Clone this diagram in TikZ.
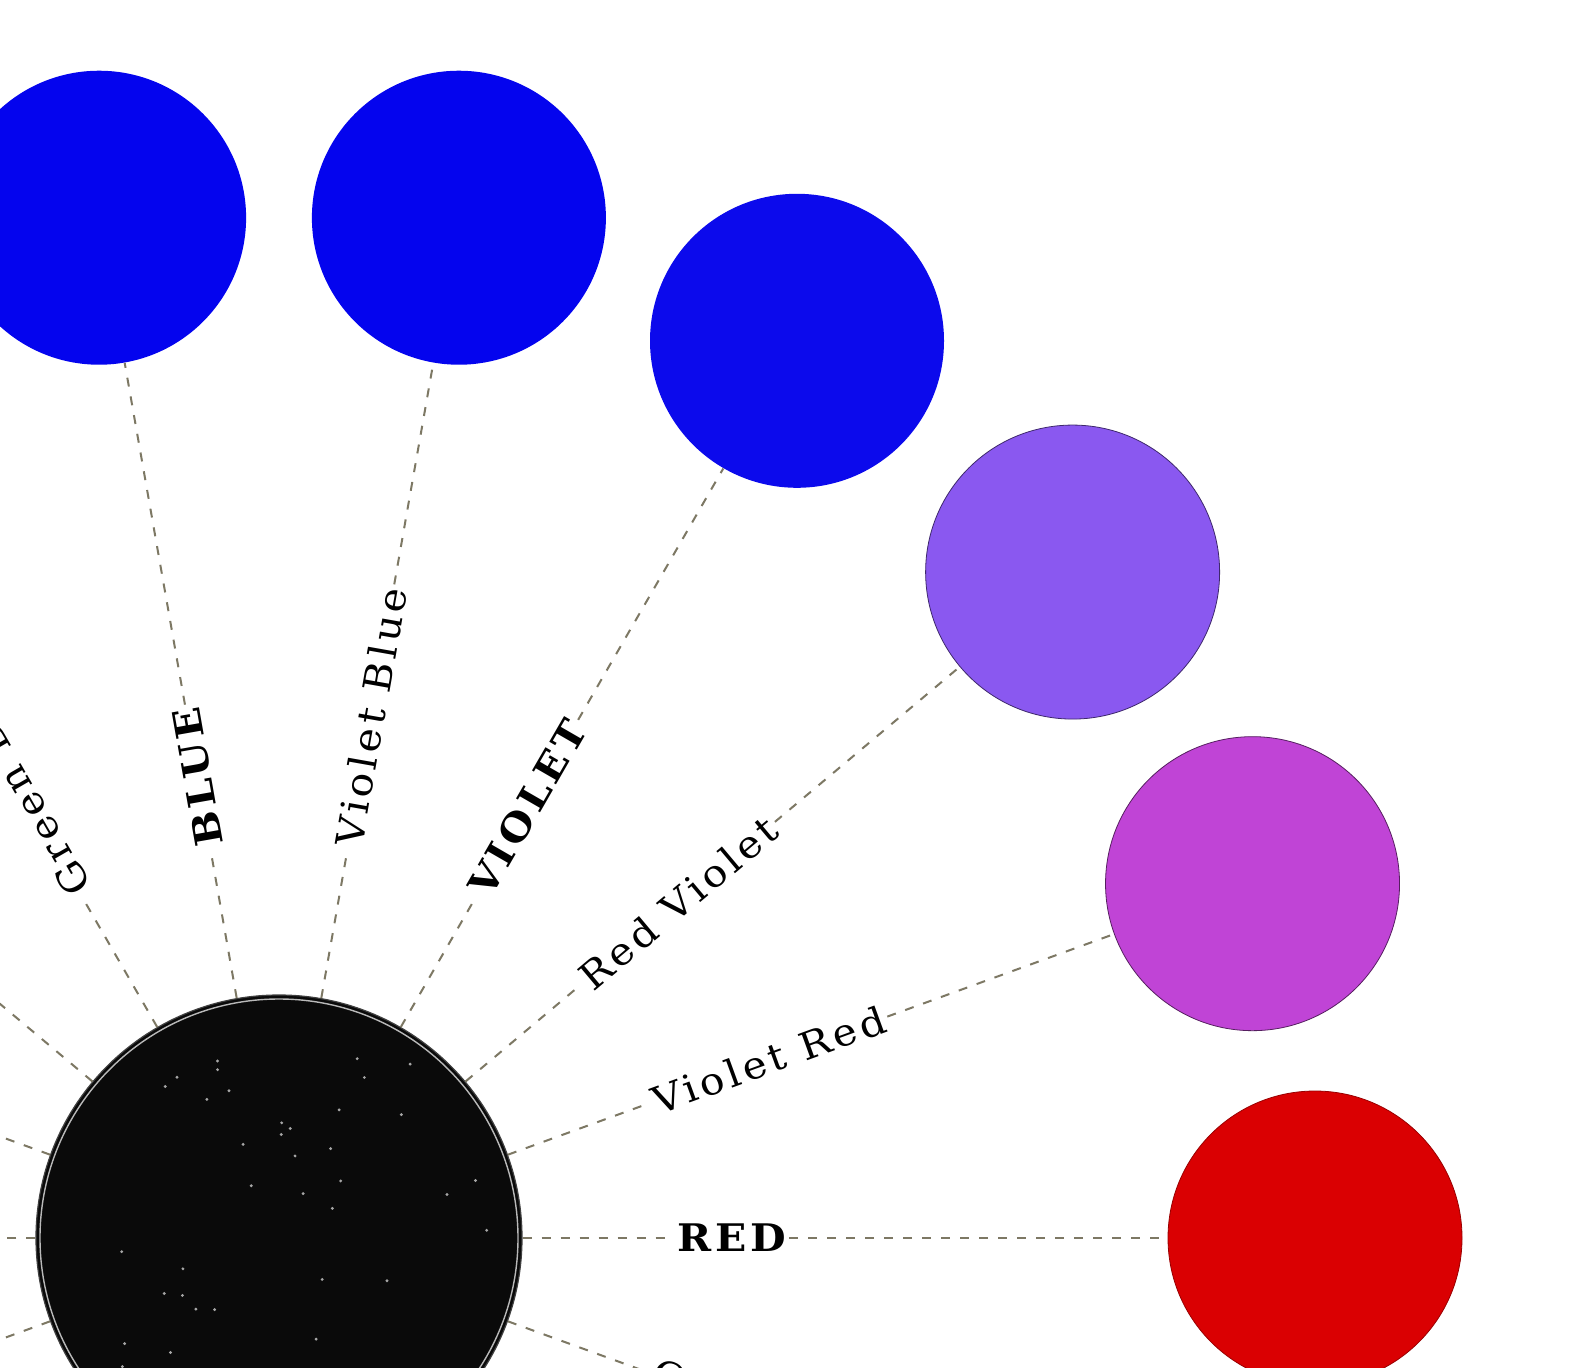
\documentclass[tikz,border=0pt]{standalone}
\usepackage{fontspec}
\newfontfamily\tagfont{DejaVu Serif}[LetterSpace=10, FakeStretch=1.08]
\definecolor{bluedisc}{RGB}{4,4,238}
\definecolor{violetdisc}{RGB}{12,10,236}
\definecolor{lavenderdisc}{RGB}{138,88,240}
\definecolor{magentadisc}{RGB}{192,68,214}
\definecolor{reddisc}{RGB}{218,0,2}
\definecolor{raygray}{RGB}{125,120,100}
\tikzset{
  disc/.style={circle, minimum size=147pt, inner sep=0pt},
  ray/.style={raygray, line width=1pt, dash pattern=on 4.5pt off 5pt},
  tag/.style={anchor=west, inner sep=1.5pt, font=\tagfont\fontsize{19}{21}\selectfont},
}
\begin{document}
\begin{tikzpicture}[x=0.5pt, y=0.5pt]
        \useasboundingbox (-279,-129) rectangle (1309,1238);
        \clip (-279,-129) rectangle (1309,1238);
        \fill[white] (-279,-129) rectangle (1309,1238);

        \node[circle, fill=black!96, draw=black!75, line width=0.6pt,
              minimum size=243pt, inner sep=0pt] (black) at (0,0) {};
        \draw[gray!55, line width=0.7pt] (0,0) circle (239);
        \pgfmathsetseed{11}
        \foreach \i in {1,...,45} {
          \pgfmathsetmacro\sa{360*rnd}
          \pgfmathsetmacro\sr{228*sqrt(rnd)}
          \fill[gray!70] (\sa:\sr) circle (1.6);
        }

        \node[disc, fill=reddisc, draw=reddisc!70!black, line width=0.4pt] (red) at (0:1036) {};
        \node[disc, fill=magentadisc, draw=magentadisc!45!black, line width=0.4pt] (violetred) at (20:1036) {};
        \node[disc, fill=lavenderdisc, draw=lavenderdisc!45!black, line width=0.4pt] (redviolet) at (40:1036) {};
        \node[disc, fill=violetdisc] (violet) at (60:1036) {};
        \node[disc, fill=bluedisc] (violetblue) at (80:1036) {};
        \node[disc, fill=bluedisc] (blue) at (100:1036) {};
        \coordinate (greenblue) at (120:1036);
        \coordinate (edge140) at (140:700);
        \coordinate (edge160) at (160:700);
        \coordinate (edge180) at (180:700);
        \coordinate (edge200) at (200:700);
        \coordinate (orangered) at (-20:1036);

        \node[tag, rotate=0] (tagred) at (0:395) {\bfseries RED};
        \node[tag, rotate=20] (tagvioletred) at (20:395) {Violet Red};
        \node[tag, rotate=40] (tagredviolet) at (40:395) {Red Violet};
        \node[tag, rotate=60] (tagviolet) at (60:395) {\bfseries VIOLET};
        \node[tag, rotate=80] (tagvioletblue) at (80:395) {Violet Blue};
        \node[tag, rotate=100] (tagblue) at (100:395) {\bfseries BLUE};
        \node[tag, rotate=120] (taggreenblue) at (120:395) {Green Blue};
        \node[tag, rotate=-20] (tagorangered) at (-20:395) {Orange Red};

        \draw[ray] (black) -- (tagred);
        \draw[ray] (tagred) -- (red);
        \draw[ray] (black) -- (tagvioletred);
        \draw[ray] (tagvioletred) -- (violetred);
        \draw[ray] (black) -- (tagredviolet);
        \draw[ray] (tagredviolet) -- (redviolet);
        \draw[ray] (black) -- (tagviolet);
        \draw[ray] (tagviolet) -- (violet);
        \draw[ray] (black) -- (tagvioletblue);
        \draw[ray] (tagvioletblue) -- (violetblue);
        \draw[ray] (black) -- (tagblue);
        \draw[ray] (tagblue) -- (blue);
        \draw[ray] (black) -- (taggreenblue);
        \draw[ray] (taggreenblue) -- (greenblue);
        \draw[ray] (black) -- (tagorangered);
        \draw[ray] (tagorangered) -- (orangered);
        \draw[ray] (black) -- (edge140);
        \draw[ray] (black) -- (edge160);
        \draw[ray] (black) -- (edge180);
        \draw[ray] (black) -- (edge200);
      \end{tikzpicture}
\end{document}
